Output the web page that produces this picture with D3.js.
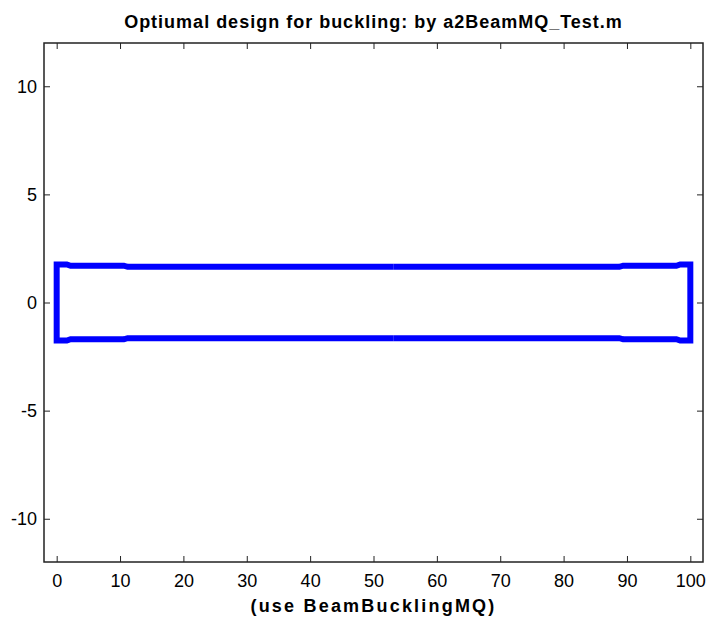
<!DOCTYPE html>
<html>
<head>
<meta charset="utf-8">
<script src="https://cdn.jsdelivr.net/npm/d3@7"></script>
<style>
  body { margin: 0; background: #fff; }
  text { font-family: "Liberation Sans", Arial, Helvetica, sans-serif; }
</style>
</head>
<body>
<div id="container"></div>
<script>
// beam stations along the length and half-height of the section there
const beamX = [0, 1.6, 2.2, 10.6, 11.2, 53.2, 88.8, 89.4, 97.8, 98.4, 100]
const beamH = [1.76, 1.76, 1.70, 1.70, 1.65, 1.65, 1.65, 1.70, 1.70, 1.76, 1.76]
const seamIndex = 5   // the outline is drawn as two halves that meet here

const xTicks = [0, 10, 20, 30, 40, 50, 60, 70, 80, 90, 100]
const yTicks = [-10, -5, 0, 5, 10]

const titleText = 'Optiumal design for buckling: by a2BeamMQ_Test.m'
const xLabelText = '(use BeamBucklingMQ)'

// svg size
const w = 710
const h = 619
const margin = { top: 43, right: 7, bottom: 57, left: 44 }
const iw = w - margin.left - margin.right
const ih = h - margin.top - margin.bottom

const x = d3.scaleLinear().domain([-2, 102]).range([0, iw])
const y = d3.scaleLinear().domain([-12, 12]).range([ih, 0])

const svg = d3.select('#container')
    .append('svg')
    .attr('width', w)
    .attr('height', h)

const g = svg.append('g')
    .attr('transform', 'translate(' + margin.left + ',' + margin.top + ')')

const tickLen = 6
const plain = function(d) { return String(d) }   // hyphen minus, like matlab

// axes, matlab style: ticks pointing inward on all four sides
const axisStyle = function(sel) {
    sel.select('.domain').remove()
    sel.selectAll('line').attr('stroke', '#222').attr('stroke-width', 1)
    sel.selectAll('text').attr('font-size', 18).attr('fill', '#000')
}

g.append('g')
    .attr('transform', 'translate(0,' + ih + ')')
    .call(d3.axisBottom(x).tickValues(xTicks).tickSizeInner(-tickLen).tickPadding(12).tickFormat(plain))
    .call(axisStyle)
    .selectAll('text').attr('dy', '0.71em')

g.append('g')
    .call(d3.axisTop(x).tickValues(xTicks).tickSizeInner(-tickLen).tickFormat(''))
    .call(axisStyle)

g.append('g')
    .call(d3.axisLeft(y).tickValues(yTicks).tickSizeInner(-tickLen).tickPadding(7).tickFormat(plain))
    .call(axisStyle)

g.append('g')
    .attr('transform', 'translate(' + iw + ',0)')
    .call(d3.axisRight(y).tickValues(yTicks).tickSizeInner(-tickLen).tickFormat(''))
    .call(axisStyle)

// box
g.append('rect')
    .attr('x', 0)
    .attr('y', 0)
    .attr('width', iw)
    .attr('height', ih)
    .attr('fill', 'none')
    .attr('stroke', '#222')
    .attr('stroke-width', 1.5)

// beam outline: top edge, end, bottom edge for each half
const pts = beamX.map(function(d, i) { return [d, beamH[i]] })
const leftTop = pts.slice(0, seamIndex + 1).reverse()
const rightTop = pts.slice(seamIndex)
const halves = [
    leftTop.concat(leftTop.slice().reverse().map(function(p) { return [p[0], -p[1]] })),
    rightTop.concat(rightTop.slice().reverse().map(function(p) { return [p[0], -p[1]] }))
]

const line = d3.line()
    .x(function(d) { return x(d[0]) })
    .y(function(d) { return y(d[1]) })

g.selectAll('path.beam')
    .data(halves)
    .enter()
    .append('path')
    .attr('class', 'beam')
    .attr('d', line)
    .attr('fill', 'none')
    .attr('stroke', '#0000ff')
    .attr('stroke-width', 6)
    .attr('stroke-linejoin', 'miter')
    .attr('stroke-linecap', 'butt')

// title and x label
svg.append('text')
    .attr('x', margin.left + iw / 2)
    .attr('y', 28)
    .attr('text-anchor', 'middle')
    .attr('font-size', 18)
    .attr('letter-spacing', 1)
    .attr('font-weight', 'bold')
    .text(titleText)

svg.append('text')
    .attr('x', margin.left + iw / 2)
    .attr('y', 612)
    .attr('text-anchor', 'middle')
    .attr('font-size', 18)
    .attr('letter-spacing', 2.2)
    .attr('font-weight', 'bold')
    .text(xLabelText)
</script>
</body>
</html>
